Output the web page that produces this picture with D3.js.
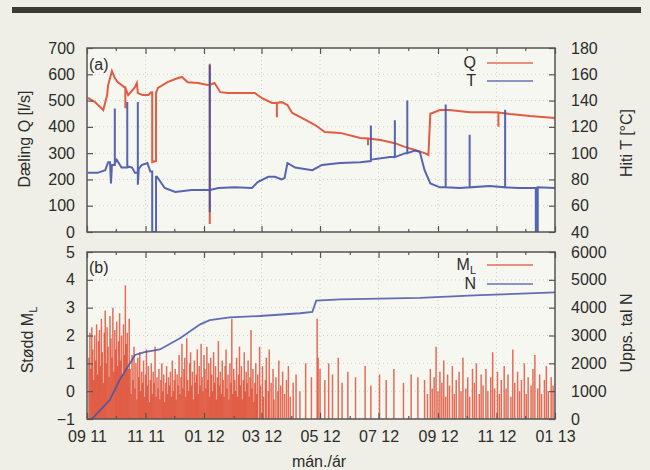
<!DOCTYPE html>
<html>
<head>
<meta charset="utf-8">
<script src="https://cdn.jsdelivr.net/npm/d3@7/dist/d3.min.js"></script>
<style>
  body { margin: 0; background: #efefe7; }
  text { font-family: "Liberation Sans", Arial, sans-serif; fill: #2c2c2c; }
</style>
</head>
<body>
<svg id="chart" width="650" height="470"></svg>
<script>
// time in days since 1 Sep 2011
const majorDays = [0, 61, 122, 182, 243, 304, 366, 427, 488];
const majorLabels = ["09 11", "11 11", "01 12", "03 12", "05 12", "07 12", "09 12", "11 12", "01 13"];
const minorDays = [30, 91, 153, 213, 274, 335, 396, 457];

const qTicks = [0, 100, 200, 300, 400, 500, 600, 700];
const tTicks = [40, 60, 80, 100, 120, 140, 160, 180];
const mTicks = [-1, 0, 1, 2, 3, 4, 5];
const nTicks = [0, 1000, 2000, 3000, 4000, 5000, 6000];

// pumping Q [l/s]
const flowQ = [
  [1, 510], [8, 495], [17, 464], [21, 521], [22, 559], [26, 612], [29, 586], [32, 570],
  [39, 551], [40, 551], [40, 471], [40, 548], [43, 521], [50, 551], [52, 567], [53, 529], [58, 521],
  [64, 521], [67, 532], [68, 532], [68, 266], [72, 270], [72, 530], [74, 548], [84, 570], [95, 586],
  [99, 590], [105, 570], [116, 567], [126, 559], [128, 560], [128, 640], [128, 30], [128, 560], [133, 567],
  [139, 532], [147, 529], [162, 529], [175, 529], [182, 510], [193, 491], [198, 491], [198, 437], [198, 491],
  [203, 494], [209, 483], [214, 453], [224, 434], [238, 407], [248, 380], [264, 377], [285, 358],
  [293, 356], [293, 330], [293, 356], [306, 350], [321, 338], [332, 323], [342, 312], [352, 300], [356, 293],
  [358, 450], [368, 464], [378, 464], [399, 456], [420, 456], [429, 455], [429, 400], [429, 455], [441, 449],
  [462, 441], [488, 434]
];

// temperature T [°C]
const tempT = [
  [1, 85], [11, 85], [19, 87], [22, 93], [24, 93], [25, 77], [26, 91], [29, 91], [29, 134], [29, 92], [31, 95],
  [36, 89], [42, 89], [42, 139], [42, 90], [47, 89], [50, 85], [53, 85], [53, 139], [53, 76], [54, 88],
  [57, 91], [63, 92.5], [66, 86], [68, 86], [68, 40], [72, 40], [72, 82], [73, 82], [81, 73.5], [92, 70.5],
  [109, 72], [128, 72], [128, 167], [128, 55], [128, 72], [137, 73.5], [154, 74], [172, 73.5], [178, 78],
  [189, 82], [196, 82], [203, 80], [206, 81], [209, 92.5], [217, 89], [235, 87], [245, 91], [264, 92.5],
  [285, 93], [296, 94], [296, 121], [296, 95], [316, 97], [321, 97], [321, 125], [321, 97], [332, 100],
  [334, 100], [334, 140], [334, 100], [342, 102], [347, 101], [352, 87], [358, 77], [368, 74], [374, 74],
  [374, 137], [374, 74], [389, 73.5], [399, 74], [399, 114], [399, 74], [420, 75], [436, 74], [436, 133],
  [436, 74], [451, 73.5], [468, 73.5], [468, 40], [469, 70], [470, 40], [470, 74], [488, 73.5]
];

// cumulative number of events N
const countN = [
  [5, 0], [14, 320], [24, 700], [34, 1400], [43, 1900], [50, 2300], [60, 2400], [76, 2500],
  [97, 2900], [118, 3400], [128, 3550], [149, 3650], [180, 3700], [222, 3800], [235, 3850],
  [239, 4250], [264, 4300], [347, 4350], [410, 4450], [488, 4550]
];

// magnitude M_L of single events
const quakes = [
  [2,1.2],[3,2.1],[4,0.8],[5,2.3],[6,1.5],[7,0.4],[8,2.0],[9,1.1],[10,2.4],[11,0.6],[12,1.8],[13,2.2],
  [14,0.9],[15,2.6],[16,1.4],[17,0.3],[18,2.1],[19,2.9],[20,1.0],[21,2.3],[22,1.6],[23,0.5],[24,2.7],
  [25,1.9],[26,1.2],[27,3.0],[28,0.7],[29,2.2],[30,1.5],[31,2.5],[32,0.9],[33,1.8],[34,2.8],[35,1.1],
  [36,2.0],[37,0.6],[38,2.4],[39,1.3],[40,3.8],[41,1.7],[42,2.1],[43,0.8],[44,2.6],
  [45,0.8],[46,-0.1],[47,1.3],[48,0.4],[49,1.6],[50,0.1],[51,1.0],[52,-0.3],[53,1.2],[54,0.5],[55,1.4],
  [56,0.0],[57,0.7],[58,0.3],[59,1.1],[60,-0.2],[61,0.6],[62,1.5],[63,0.2],[64,0.9],[65,-0.4],[66,0.4],
  [67,1.0],[68,-0.1],[69,0.7],[70,0.3],[71,1.6],[72,-0.2],[73,0.5],[74,0.1],[75,0.8],[76,-0.3],[77,0.4],
  [78,1.0],[79,0.0],[80,0.6],[81,-0.4],[82,0.3],[83,0.9],[84,-0.1],[85,0.5],[86,0.2],[87,0.7],[88,-0.2],
  [89,1.1],[90,0.0],[91,0.4],[92,0.8],[93,-0.3],[94,0.6],[95,0.2],[96,1.3],[97,-0.1],[98,0.5],[99,1.7],
  [100,0.1],[101,0.8],[102,1.2],[103,-0.2],[104,1.9],[105,0.4],[106,0.0],[107,1.0],[108,1.4],[109,0.2],
  [110,0.7],[111,-0.3],[112,1.1],[113,0.3],[114,0.6],[115,1.5],[116,-0.1],[117,0.9],[118,0.2],[119,1.7],
  [120,0.5],[121,0.0],[122,1.3],[123,0.8],[124,0.1],[125,1.6],[126,0.4],[127,1.0],[128,-0.2],[129,1.2],
  [130,0.6],[131,0.0],[132,1.4],[133,0.3],[134,0.9],[135,-0.3],[136,0.5],[137,1.8],[138,0.2],[139,0.7],
  [140,-0.1],[141,1.1],[142,0.4],[143,-0.2],[144,0.9],[145,1.5],[146,0.1],[147,0.6],[148,-0.3],[149,1.0],
  [150,0.3],[151,2.6],[152,-0.1],[153,0.8],[154,0.4],[155,0.0],[156,1.2],[157,-0.2],[158,0.6],[159,1.6],
  [160,0.2],[161,0.9],[162,-0.3],[163,0.4],[164,1.4],[165,0.0],[166,0.7],[167,0.3],[168,1.1],[169,-0.2],
  [170,0.5],[171,2.2],[172,0.1],[173,0.8],[174,-0.4],[175,0.3],[176,1.0],[177,-0.1],[178,0.6],[180,1.6],
  [181,0.2],[183,0.9],[184,-0.2],[186,0.4],[187,1.2],[189,0.0],[190,1.5],[192,0.3],[194,0.8],[195,-0.3],
  [197,0.5],[199,0.0],[200,1.1],[202,0.2],[204,0.7],[206,-0.1],[208,0.4],[210,0.9],[212,-0.2],[215,0.3],
  [218,0.6],[222,0.0],
  [228,1.0],[234,0.5],[240,2.6],[241,1.2],[243,0.8],[248,0.4],[252,1.0],[256,0.6],[262,1.2],[266,0.3],
  [272,0.7],[280,0.5],[290,0.9],[296,0.2],[305,0.6],[312,0.4],[320,0.8],[330,0.3],[338,0.6],[345,0.5],
  [352,0.4],[355,-0.1],[358,0.8],[360,0.1],[362,0.5],[364,1.6],[366,0.0],[368,0.7],[370,0.3],[372,1.1],
  [374,-0.2],[376,0.6],[378,0.2],[381,0.9],[383,-0.1],[385,0.4],[388,0.7],[390,0.0],[392,1.2],[395,0.1],
  [397,0.5],[399,-0.2],[402,0.8],[404,0.3],[406,1.0],[409,-0.1],[411,0.6],[413,0.2],[416,0.8],[418,0.0],
  [421,0.5],[423,1.4],[425,0.1],[428,0.7],[430,-0.1],[432,0.4],[435,0.9],[437,0.1],[439,0.6],[442,-0.2],
  [444,1.5],[446,0.3],[449,0.7],[451,0.0],[453,0.4],[456,1.0],[458,-0.1],[460,0.5],[463,0.2],[465,0.8],
  [467,1.3],[470,0.1],[472,0.6],[474,-0.1],[477,0.4],[479,0.9],[481,0.0],[484,0.5],[486,0.2]
];

const red = "#de4a30";
const blue = "#4553a8";
const fs = 16;

const svg = d3.select("#chart");
const left = 87, right = 555;
const panelA = { top: 48, bottom: 232 };
const panelB = { top: 252, bottom: 419 };

// top dark bar
svg.append("rect").attr("x", 12).attr("y", 7).attr("width", 629).attr("height", 6).attr("fill", "#3b3b36");

const x = d3.scaleLinear().domain([0, 488]).range([left, right]);
const yQ = d3.scaleLinear().domain([0, 700]).range([panelA.bottom, panelA.top]);
const yT = d3.scaleLinear().domain([40, 180]).range([panelA.bottom, panelA.top]);
const yM = d3.scaleLinear().domain([-1, 5]).range([panelB.bottom, panelB.top]);
const yN = d3.scaleLinear().domain([0, 6000]).range([panelB.bottom, panelB.top]);

// plot backgrounds + clips
[panelA, panelB].forEach((p, i) => {
  svg.append("rect")
    .attr("x", left).attr("y", p.top)
    .attr("width", right - left).attr("height", p.bottom - p.top)
    .attr("fill", "#f7f7f2");
  svg.append("clipPath").attr("id", "clip" + i)
    .append("rect")
    .attr("x", left).attr("y", p.top)
    .attr("width", right - left).attr("height", p.bottom - p.top);
});

// faint dotted grid
function grid(p, yScale, ticks) {
  const g = svg.append("g").attr("stroke", "#cfcfca").attr("stroke-dasharray", "1,3");
  g.selectAll(".gy").data(ticks).join("line")
    .attr("x1", left).attr("x2", right)
    .attr("y1", d => yScale(d)).attr("y2", d => yScale(d));
  g.selectAll(".gx").data(majorDays).join("line")
    .attr("x1", d => x(d)).attr("x2", d => x(d))
    .attr("y1", p.top).attr("y2", p.bottom);
}
grid(panelA, yQ, qTicks);
grid(panelB, yM, mTicks);

// panel (a) lines
const gA = svg.append("g").attr("clip-path", "url(#clip0)");
gA.append("path").datum(flowQ)
  .attr("fill", "none").attr("stroke", red).attr("stroke-width", 2).attr("stroke-opacity", 0.9)
  .attr("d", d3.line().x(d => x(d[0])).y(d => yQ(d[1])));
gA.append("path").datum(tempT)
  .attr("fill", "none").attr("stroke", blue).attr("stroke-width", 2).attr("stroke-opacity", 0.9)
  .attr("d", d3.line().x(d => x(d[0])).y(d => yT(d[1])));

// panel (b) impulses and cumulative count
const gB = svg.append("g").attr("clip-path", "url(#clip1)");
gB.selectAll(".imp").data(quakes).join("line")
  .attr("x1", d => x(d[0])).attr("x2", d => x(d[0]))
  .attr("y1", yM(-1)).attr("y2", d => yM(d[1]))
  .attr("stroke", red).attr("stroke-width", 1.5).attr("stroke-opacity", 0.8);
gB.append("path").datum(countN)
  .attr("fill", "none").attr("stroke", blue).attr("stroke-width", 1.8).attr("stroke-opacity", 0.85)
  .attr("d", d3.line().x(d => x(d[0])).y(d => yN(d[1])));

// axes
function styleAxis(g) {
  g.select(".domain").remove();
  g.selectAll(".tick line").attr("stroke", "#555").attr("stroke-width", 1.2);
  g.selectAll("text").attr("font-size", fs).attr("fill", "#2c2c2c").attr("font-family", null);
}

svg.append("g").attr("transform", `translate(${left},0)`)
  .call(d3.axisLeft(yQ).tickValues(qTicks).tickSize(-6).tickPadding(12))
  .call(styleAxis);
svg.append("g").attr("transform", `translate(${right},0)`)
  .call(d3.axisRight(yT).tickValues(tTicks).tickSize(-6).tickPadding(16))
  .call(styleAxis);
svg.append("g").attr("transform", `translate(${left},0)`)
  .call(d3.axisLeft(yM).tickValues(mTicks).tickSize(-6).tickPadding(12).tickFormat(d => d < 0 ? "\u2212" + (-d) : d))
  .call(styleAxis);
svg.append("g").attr("transform", `translate(${right},0)`)
  .call(d3.axisRight(yN).tickValues(nTicks).tickSize(-6).tickPadding(16).tickFormat(d3.format("d")))
  .call(styleAxis);

// x ticks: labelled bottom of (b), plain ticks elsewhere
svg.append("g").attr("transform", `translate(0,${panelB.bottom})`)
  .call(d3.axisBottom(x).tickValues(majorDays).tickSize(-6).tickPadding(12).tickFormat((d, i) => majorLabels[i]))
  .call(styleAxis);
[[panelB.bottom, d3.axisBottom], [panelA.bottom, d3.axisBottom], [panelA.top, d3.axisTop], [panelB.top, d3.axisTop]]
  .forEach(([yy, ax], k) => {
    if (k > 0) {
      svg.append("g").attr("transform", `translate(0,${yy})`)
        .call(ax(x).tickValues(majorDays).tickSize(-6).tickFormat(""))
        .call(styleAxis);
    }
    svg.append("g").attr("transform", `translate(0,${yy})`)
      .call(ax(x).tickValues(minorDays).tickSize(-3).tickFormat(""))
      .call(styleAxis);
  });

// frames
[panelA, panelB].forEach(p => {
  svg.append("rect")
    .attr("x", left).attr("y", p.top)
    .attr("width", right - left).attr("height", p.bottom - p.top)
    .attr("fill", "none").attr("stroke", "#555").attr("stroke-width", 1.5);
});

// panel tags
svg.append("text").attr("x", 89).attr("y", 70).attr("font-size", fs).text("(a)");
svg.append("text").attr("x", 89).attr("y", 273).attr("font-size", fs).text("(b)");

// legends
function legendRow(y, label, color, sub) {
  const t = svg.append("text").attr("x", 476).attr("y", y + 5).attr("font-size", fs).attr("text-anchor", "end").text(label);
  if (sub) t.append("tspan").attr("font-size", 11).attr("dy", 4).text(sub);
  svg.append("line").attr("x1", 487).attr("x2", 533).attr("y1", y).attr("y2", y)
    .attr("stroke", color).attr("stroke-width", 1.5).attr("stroke-opacity", 0.8);
}
legendRow(63, "Q", red);
legendRow(81, "T", blue);
legendRow(265, "M", red, "L");
legendRow(284, "N", blue);

// axis titles
function vTitle(cx, cy, label, sub) {
  const t = svg.append("text")
    .attr("transform", `translate(${cx},${cy}) rotate(-90)`)
    .attr("text-anchor", "middle").attr("font-size", fs).text(label);
  if (sub) t.append("tspan").attr("font-size", 11).attr("dy", 4).text(sub);
}
vTitle(30, 139, "Dæling Q [l/s]");
vTitle(632, 143, "Hiti T [°C]");
vTitle(33, 340, "Stødd M", "L");
vTitle(632, 333, "Upps. tal N");

svg.append("text").attr("x", 319).attr("y", 467).attr("text-anchor", "middle").attr("font-size", fs).text("mán./ár");
</script>
</body>
</html>
